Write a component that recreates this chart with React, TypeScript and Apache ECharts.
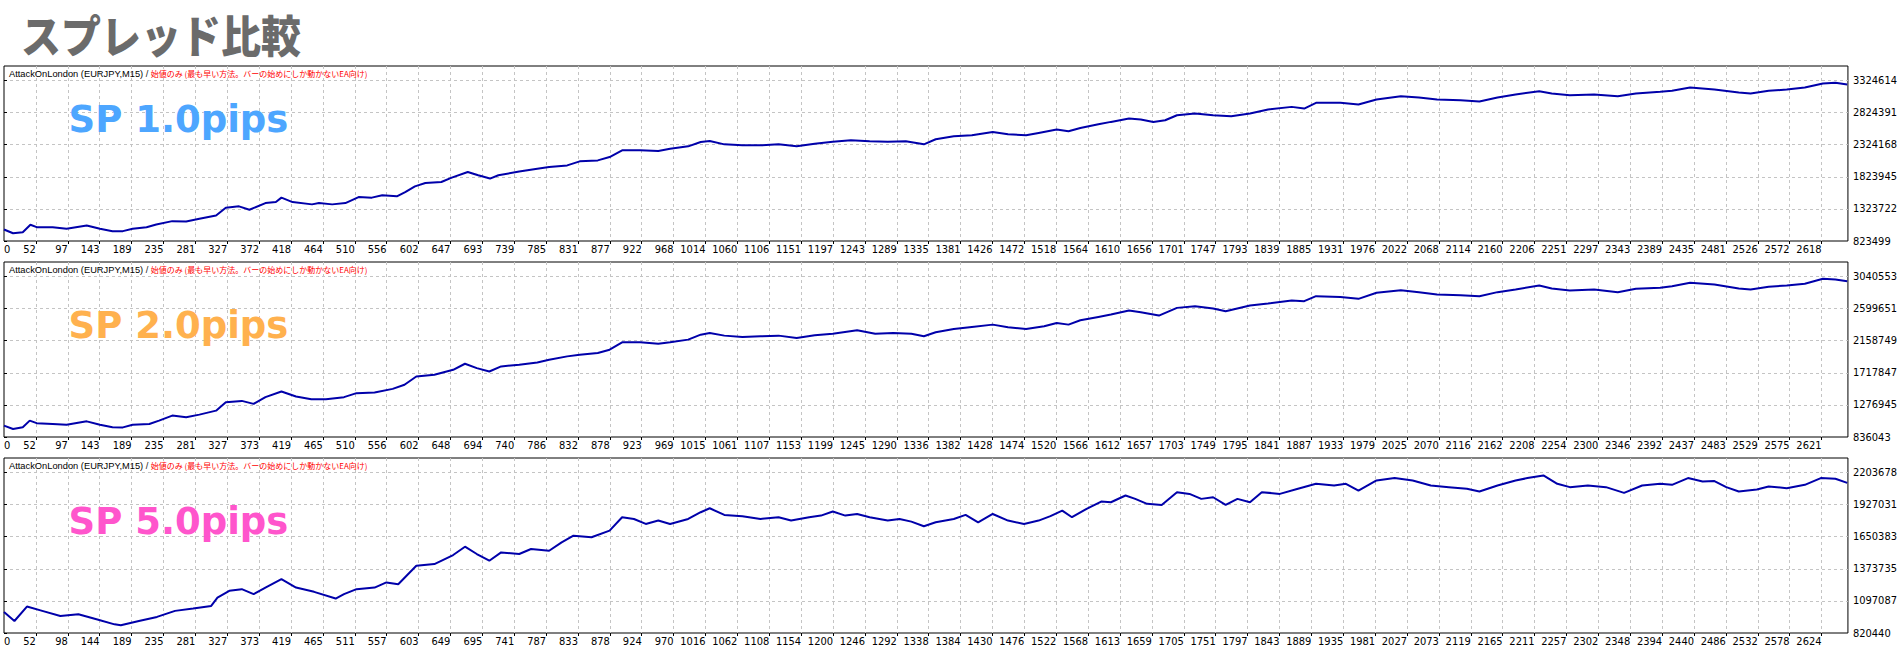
import React, { useEffect, useRef } from 'react';
import * as echarts from 'echarts';

// ---------- texts ----------
const mainTitle = 'スプレッド比較';
const headerEA = 'AttackOnLondon (EURJPY,M15)';
const headerMode = '始値のみ (最も早い方法。バーの始めにしか動かないEA向け)';
const spreadNames = ['SP 1.0pips', 'SP 2.0pips', 'SP 5.0pips'];
const spreadColors = ['#4da6ff', '#ffb14e', '#ff55cc'];

// ---------- x tick labels (trade number) ----------
const x1Labels = ['0','52','97','143','189','235','281','327','372','418','464','510','556','602','647','693','739','785','831','877','922','968','1014','1060','1106','1151','1197','1243','1289','1335','1381','1426','1472','1518','1564','1610','1656','1701','1747','1793','1839','1885','1931','1976','2022','2068','2114','2160','2206','2251','2297','2343','2389','2435','2481','2526','2572','2618'];
const x2Labels = ['0','52','97','143','189','235','281','327','373','419','465','510','556','602','648','694','740','786','832','878','923','969','1015','1061','1107','1153','1199','1245','1290','1336','1382','1428','1474','1520','1566','1612','1657','1703','1749','1795','1841','1887','1933','1979','2025','2070','2116','2162','2208','2254','2300','2346','2392','2437','2483','2529','2575','2621'];
const x3Labels = ['0','52','98','144','189','235','281','327','373','419','465','511','557','603','649','695','741','787','833','878','924','970','1016','1062','1108','1154','1200','1246','1292','1338','1384','1430','1476','1522','1568','1613','1659','1705','1751','1797','1843','1889','1935','1981','2027','2073','2119','2165','2211','2257','2302','2348','2394','2440','2486','2532','2578','2624'];

// ---------- y tick labels (balance) ----------
const y1Labels = [823499, 1323722, 1823945, 2324168, 2824391, 3324614];
const y2Labels = [836043, 1276945, 1717847, 2158749, 2599651, 3040553];
const y3Labels = [820440, 1097087, 1373735, 1650383, 1927031, 2203678];

// ---------- series: SP 1.0pips ----------
const sp1Trades = [0,13,27,38,47,70,90,119,138,156,171,185,205,219,242,262,281,305,319,338,353,376,391,399,415,443,453,472,491,510,529,544,565,577,591,606,629,644,667,682,699,711,741,767,784,810,828,854,871,889,915,941,958,984,1002,1015,1036,1062,1088,1114,1140,1166,1192,1218,1245,1271,1297,1323,1340,1366,1392,1422,1444,1470,1488,1514,1531,1548,1574,1592,1618,1635,1653,1670,1687,1713,1739,1765,1792,1818,1852,1870,1887,1922,1948,1974,2009,2035,2061,2095,2122,2148,2174,2208,2226,2252,2287,2321,2347,2382,2399,2425,2460,2495,2512,2538,2564,2590,2616,2634,2651];
const sp1Balance = [1003000,945000,961000,1077000,1039000,1039000,1014000,1066000,1014000,977000,977000,1014000,1039000,1081000,1133000,1128000,1171000,1222000,1342000,1363000,1311000,1414000,1430000,1499000,1430000,1394000,1414000,1394000,1414000,1508000,1499000,1535000,1519000,1586000,1675000,1727000,1743000,1811000,1899000,1847000,1796000,1847000,1907000,1949000,1975000,2001000,2064000,2079000,2131000,2236000,2236000,2225000,2262000,2298000,2366000,2382000,2329000,2314000,2314000,2329000,2298000,2340000,2371000,2392000,2376000,2371000,2376000,2329000,2408000,2455000,2470000,2522000,2486000,2470000,2507000,2559000,2533000,2585000,2642000,2679000,2731000,2715000,2679000,2705000,2783000,2809000,2783000,2767000,2809000,2871000,2913000,2887000,2976000,2976000,2950000,3028000,3080000,3059000,3028000,3017000,2996000,3059000,3106000,3158000,3122000,3095000,3106000,3080000,3122000,3148000,3163000,3215000,3184000,3137000,3122000,3163000,3184000,3215000,3278000,3288000,3262000];

// ---------- series: SP 2.0pips ----------
const sp2Trades = [0,13,27,37,47,70,90,119,138,156,171,185,209,223,242,262,281,305,319,342,359,376,399,420,442,463,489,507,533,559,576,593,619,646,663,680,698,715,741,767,784,810,828,854,871,889,915,941,958,984,1002,1015,1036,1062,1088,1114,1140,1166,1192,1227,1253,1279,1305,1323,1340,1366,1392,1422,1444,1470,1496,1514,1531,1548,1574,1592,1618,1635,1661,1687,1713,1739,1757,1792,1818,1852,1870,1887,1922,1948,1974,2009,2035,2061,2095,2122,2148,2174,2208,2226,2252,2287,2321,2347,2382,2399,2425,2460,2495,2512,2538,2564,2590,2616,2634,2651];
const sp2Balance = [992000,946000,971000,1061000,1026000,1015000,1005000,1051000,1005000,971000,968000,1005000,1015000,1061000,1130000,1106000,1143000,1198000,1313000,1332000,1291000,1383000,1461000,1392000,1355000,1355000,1383000,1438000,1447000,1497000,1553000,1667000,1690000,1759000,1842000,1782000,1736000,1805000,1828000,1860000,1897000,1943000,1966000,1989000,2035000,2136000,2136000,2117000,2136000,2173000,2241000,2264000,2228000,2209000,2219000,2228000,2196000,2232000,2255000,2301000,2255000,2264000,2255000,2219000,2274000,2320000,2347000,2379000,2343000,2320000,2356000,2402000,2379000,2439000,2485000,2517000,2572000,2549000,2503000,2609000,2632000,2600000,2563000,2641000,2669000,2710000,2701000,2770000,2760000,2733000,2816000,2852000,2825000,2793000,2783000,2770000,2825000,2862000,2917000,2875000,2848000,2862000,2825000,2871000,2884000,2907000,2953000,2930000,2875000,2862000,2898000,2917000,2940000,3009000,3000000,2976000];

// ---------- series: SP 5.0pips ----------
const sp3Trades = [0,15,33,55,81,107,133,159,168,194,220,246,272,298,307,324,342,359,376,399,420,446,477,489,507,533,550,567,593,619,646,663,680,698,715,741,758,784,802,819,845,871,889,906,923,941,958,984,1002,1015,1036,1062,1088,1114,1132,1158,1175,1192,1210,1227,1245,1271,1288,1305,1323,1340,1366,1383,1401,1422,1444,1467,1488,1505,1522,1536,1557,1578,1592,1613,1627,1644,1665,1687,1705,1722,1739,1757,1774,1792,1809,1835,1861,1887,1913,1930,1948,1974,2000,2026,2052,2078,2104,2122,2148,2174,2191,2214,2234,2252,2278,2304,2330,2356,2382,2399,2422,2443,2460,2477,2495,2521,2538,2564,2590,2613,2634,2651];
const sp3Balance = [1002000,924000,1048000,1011000,967000,982000,939000,895000,887000,924000,959000,1011000,1031000,1054000,1126000,1184000,1198000,1155000,1212000,1284000,1212000,1175000,1117000,1155000,1198000,1212000,1256000,1241000,1400000,1414000,1492000,1564000,1501000,1443000,1515000,1501000,1544000,1529000,1601000,1659000,1645000,1702000,1818000,1803000,1760000,1789000,1760000,1803000,1861000,1895000,1838000,1827000,1803000,1818000,1789000,1818000,1832000,1867000,1832000,1846000,1818000,1789000,1803000,1780000,1740000,1774000,1803000,1838000,1774000,1846000,1789000,1760000,1789000,1827000,1875000,1818000,1890000,1953000,1947000,2005000,1976000,1933000,1924000,2034000,2019000,1976000,1990000,1924000,1976000,1947000,2034000,2019000,2063000,2106000,2091000,2106000,2048000,2135000,2155000,2135000,2091000,2077000,2063000,2040000,2091000,2135000,2155000,2178000,2106000,2077000,2091000,2077000,2028000,2091000,2106000,2097000,2155000,2126000,2129000,2077000,2040000,2057000,2083000,2068000,2097000,2155000,2149000,2114000];

// ---------- layout ----------
const PANEL_TOPS = [66, 262, 458];
const PANEL_H = 175;
const GRID_LEFT = 4;
const GRID_RIGHT = 45;
const X_TICK_STEP = 45.86;
const X_MAX = 2652;
const Y_SPAN = 5.45;
const SP_TOPS = [101, 306.5, 502.5];
const AXIS_FONT = "'Liberation Sans Narrow', 'DejaVu Sans Condensed', 'Liberation Sans', sans-serif";
const LINE_COLOR = '#0000aa';
const GRID_COLOR = '#c4c4c4';

const panels = [
  { trades: sp1Trades, balance: sp1Balance, xLabels: x1Labels, yLabels: y1Labels },
  { trades: sp2Trades, balance: sp2Balance, xLabels: x2Labels, yLabels: y2Labels },
  { trades: sp3Trades, balance: sp3Balance, xLabels: x3Labels, yLabels: y3Labels },
];

function buildOption() {
  const grid: any[] = [];
  const xAxis: any[] = [];
  const yAxis: any[] = [];
  const series: any[] = [];
  const title: any[] = [];

  panels.forEach((p, i) => {
    const base = p.yLabels[0];
    const step = p.yLabels[1] - p.yLabels[0];
    grid.push({
      left: GRID_LEFT,
      right: GRID_RIGHT,
      top: PANEL_TOPS[i],
      height: PANEL_H,
      show: true,
      borderColor: '#000',
      borderWidth: 1,
      backgroundColor: '#fff',
    });
    xAxis.push({
      type: 'value',
      gridIndex: i,
      position: 'bottom',
      min: 0,
      max: X_MAX,
      interval: X_TICK_STEP,
      axisLine: { show: false },
      axisTick: { show: true, length: 3, lineStyle: { color: '#000' } },
      axisLabel: {
        show: true,
        align: 'right',
        margin: 3,
        fontSize: 11,
        fontFamily: AXIS_FONT,
        color: '#000',
        showMinLabel: false,
        showMaxLabel: false,
        formatter: (v: number) => {
          const k = Math.round(v / X_TICK_STEP);
          return k > 0 && Math.abs(v - k * X_TICK_STEP) < 1 ? p.xLabels[k] ?? '' : '';
        },
      },
      splitLine: {
        show: true,
        showMinLine: false,
        showMaxLine: false,
        lineStyle: { color: GRID_COLOR, type: [3, 3], width: 1 },
      },
    });
    xAxis.push({
      type: 'value',
      gridIndex: i,
      position: 'bottom',
      min: 0,
      max: X_MAX,
      interval: X_MAX,
      axisLine: { show: false },
      axisTick: { show: false },
      splitLine: { show: false },
      axisLabel: {
        show: true,
        align: 'left',
        margin: 3,
        fontSize: 11,
        fontFamily: AXIS_FONT,
        color: '#000',
        showMaxLabel: false,
        formatter: (v: number) => (v === 0 ? p.xLabels[0] : ''),
      },
    });
    yAxis.push({
      type: 'value',
      gridIndex: i,
      position: 'right',
      min: 0,
      max: step * Y_SPAN,
      interval: step,
      axisLine: { show: false },
      axisTick: { show: true, length: 3, lineStyle: { color: '#000' } },
      axisLabel: {
        show: true,
        margin: 5,
        fontSize: 11,
        fontFamily: AXIS_FONT,
        color: '#000',
        padding: [4, 0, 0, 0],
        showMaxLabel: false,
        formatter: (v: number) => {
          const k = Math.round(v / step);
          return Math.abs(v - k * step) < 1 && k < p.yLabels.length ? String(p.yLabels[k]) : '';
        },
      },
      splitLine: {
        show: true,
        showMinLine: false,
        showMaxLine: false,
        lineStyle: { color: GRID_COLOR, type: [3, 3], width: 1 },
      },
    });
    series.push({
      type: 'line',
      xAxisIndex: i * 2,
      yAxisIndex: i,
      data: p.trades.map((t, j) => [t, p.balance[j] - base]),
      showSymbol: false,
      symbol: 'none',
      silent: true,
      lineStyle: { color: LINE_COLOR, width: 2 },
      itemStyle: { color: LINE_COLOR },
      z: 3,
    });
    title.push({
      text: `{a|${headerEA}} {s|/} {b|${headerMode}}`,
      left: GRID_LEFT + 5,
      top: PANEL_TOPS[i] + 3,
      padding: 0,
      textStyle: {
        fontSize: 9,
        fontWeight: 'normal',
        fontFamily: "'Liberation Sans', sans-serif",
        rich: {
          a: { fontSize: 9.3, fontWeight: 'normal', fontFamily: "'Liberation Sans', sans-serif", color: '#000' },
          s: { fontSize: 9.3, fontWeight: 'normal', fontFamily: "'Liberation Sans', sans-serif", color: '#222' },
          b: { fontSize: 8, fontWeight: 'normal', fontFamily: "'Noto Sans CJK JP', sans-serif", color: '#ff0000' },
        },
      },
    });
    title.push({
      text: spreadNames[i],
      left: 68.5,
      top: SP_TOPS[i],
      padding: 0,
      textStyle: {
        fontFamily: "'DejaVu Sans', sans-serif",
        fontSize: 37,
        fontWeight: 'bold',
        color: spreadColors[i],
      },
    });
  });

  return {
    animation: false,
    backgroundColor: '#fff',
    title,
    graphic: [
      {
        type: 'text',
        left: 21,
        top: 11,
        scaleY: 1.12,
        style: {
          text: mainTitle,
          fontFamily: "'Noto Sans CJK JP', sans-serif",
          fontSize: 40,
          fontWeight: 900,
          fill: '#6b6b6b',
        },
      },
    ],
    grid,
    xAxis,
    yAxis,
    series,
  };
}

export default function App() {
  const ref = useRef<HTMLDivElement>(null);
  useEffect(() => {
    if (!ref.current) return;
    const chart = echarts.init(ref.current, null, { renderer: 'svg' });
    chart.setOption(buildOption() as any);
    return () => chart.dispose();
  }, []);
  return (
    <div
      ref={ref}
      style={{ position: 'absolute', left: 0, top: 0, width: 1900, height: 650, background: '#fff' }}
    />
  );
}
